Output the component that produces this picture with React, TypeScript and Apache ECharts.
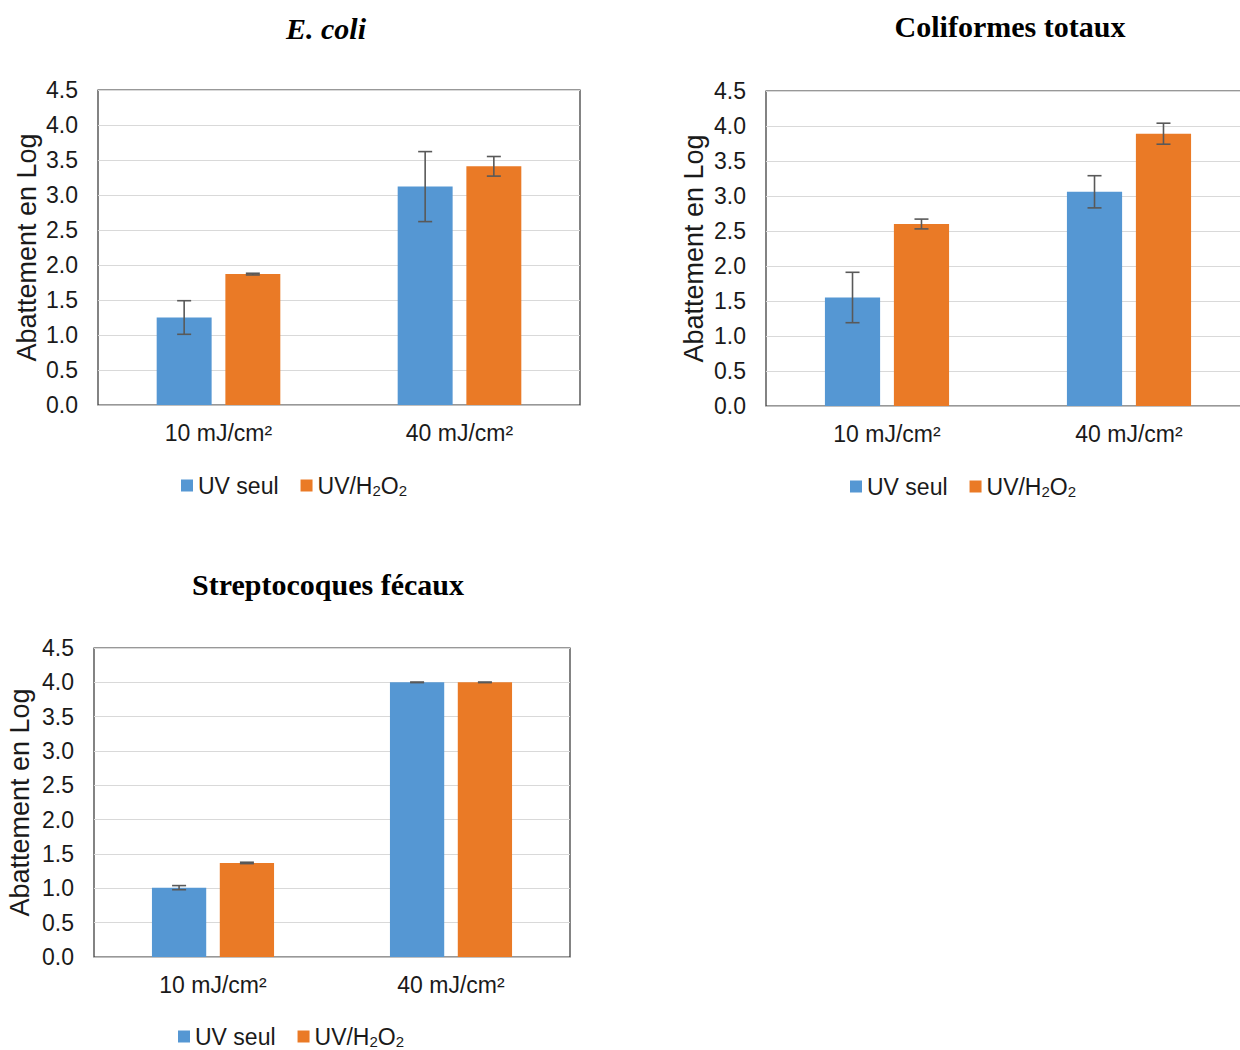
import React, { useEffect, useRef } from "react";
import * as echarts from "echarts";

const categories = ["10 mJ/cm²", "40 mJ/cm²"];
const seriesNames = ["UV seul", "UV/H2O2"];
const yTicks = { min: 0, max: 4.5, interval: 0.5 };

const ecoliUV = [1.25, 3.12];
const ecoliUVErr = [0.24, 0.5];
const ecoliH2O2 = [1.87, 3.41];
const ecoliH2O2Err = [0.012, 0.14];

const colUV = [1.55, 3.06];
const colUVErr = [0.36, 0.23];
const colH2O2 = [2.6, 3.89];
const colH2O2Err = [0.07, 0.15];

const strepUV = [1.01, 4.0];
const strepUVErr = [0.03, 0.004];
const strepH2O2 = [1.37, 4.0];
const strepH2O2Err = [0.01, 0.004];

const titles = ["E. coli", "Coliformes totaux", "Streptocoques fécaux"];

const BLUE = "#5597D3";
const ORANGE = "#EA7A26";
const BAR_W = 0.228;
const BAR_GAP = 0.25;

const grids = [
  { left: 98, top: 90, width: 482, height: 315 },
  { left: 766, top: 91, width: 484, height: 315 },
  { left: 94, top: 648, width: 476, height: 309 },
];
const nameGaps = [58, 59, 61];
const legendPos = [
  { left: 176, top: 469 },
  { left: 845, top: 470 },
  { left: 173, top: 1020 },
];
const titlePos = [
  { x: 326, y: 28, font: "italic bold 30px 'Liberation Serif'" },
  { x: 1010, y: 26, font: "bold 30px 'Liberation Serif'" },
  { x: 328, y: 584, font: "bold 30px 'Liberation Serif'" },
];

const panels = [
  { uv: ecoliUV, uvErr: ecoliUVErr, h: ecoliH2O2, hErr: ecoliH2O2Err },
  { uv: colUV, uvErr: colUVErr, h: colH2O2, hErr: colH2O2Err },
  { uv: strepUV, uvErr: strepUVErr, h: strepH2O2, hErr: strepH2O2Err },
];

const FONT = "'Liberation Sans', Arial, sans-serif";

export default function App() {
  const ref = useRef<HTMLDivElement>(null);
  useEffect(() => {
    if (!ref.current) return;
    const chart = echarts.init(ref.current, null, { renderer: "svg" });

    const errorRender = (sideIdx: number) => (params: any, api: any) => {
      const cat = api.value(0);
      const val = api.value(1);
      const err = api.value(2);
      const center = api.coord([cat, val]);
      const band = api.size([1, 0])[0];
      const w = band * BAR_W;
      const off = ((w + w * BAR_GAP) / 2) * (sideIdx === 0 ? -1 : 1);
      const x = center[0] + off;
      const top = api.coord([cat, val + err])[1];
      const bot = api.coord([cat, val - err])[1];
      const cap = 7;
      const style = { stroke: "#595959", lineWidth: 1.6 };
      return {
        type: "group",
        children: [
          { type: "line", shape: { x1: x, y1: top, x2: x, y2: bot }, style },
          { type: "line", shape: { x1: x - cap, y1: top, x2: x + cap, y2: top }, style },
          { type: "line", shape: { x1: x - cap, y1: bot, x2: x + cap, y2: bot }, style },
        ],
      };
    };

    const series: any[] = [];
    panels.forEach((p, i) => {
      series.push({
        type: "bar",
        name: seriesNames[0],
        xAxisIndex: i,
        yAxisIndex: i,
        data: p.uv,
        barWidth: BAR_W * 100 + "%",
        barGap: BAR_GAP * 100 + "%",
        itemStyle: { color: BLUE },
      });
      series.push({
        type: "bar",
        name: seriesNames[1],
        xAxisIndex: i,
        yAxisIndex: i,
        data: p.h,
        barWidth: BAR_W * 100 + "%",
        barGap: BAR_GAP * 100 + "%",
        itemStyle: { color: ORANGE },
      });
      series.push({
        type: "custom",
        xAxisIndex: i,
        yAxisIndex: i,
        z: 10,
        renderItem: errorRender(0),
        data: p.uv.map((v, k) => [k, v, p.uvErr[k]]),
      });
      series.push({
        type: "custom",
        xAxisIndex: i,
        yAxisIndex: i,
        z: 10,
        renderItem: errorRender(1),
        data: p.h.map((v, k) => [k, v, p.hErr[k]]),
      });
    });

    const option: any = {
      animation: false,
      backgroundColor: "#ffffff",
      grid: grids.map((g) => ({
        ...g,
        show: true,
        borderColor: "#333333",
        borderWidth: 1.2,
        containLabel: false,
        outerBoundsMode: "none",
      })),
      xAxis: grids.map((_, i) => ({
        type: "category",
        gridIndex: i,
        data: categories,
        axisTick: { show: false },
        axisLine: { show: true, lineStyle: { color: "#bfbfbf", width: 1.2 } },
        axisLabel: { fontFamily: FONT, fontSize: 23, color: "#1a1a1a", margin: 16 },
      })),
      yAxis: grids.map((_, i) => ({
        type: "value",
        gridIndex: i,
        min: yTicks.min,
        max: yTicks.max,
        interval: yTicks.interval,
        name: "Abattement en Log",
        nameLocation: "middle",
        nameGap: nameGaps[i],
        nameTextStyle: { fontFamily: FONT, fontSize: 27, color: "#1a1a1a" },
        axisLine: { show: false },
        axisTick: { show: false },
        splitLine: { lineStyle: { color: "#d9d9d9", width: 1.2 } },
        axisLabel: {
          fontFamily: FONT,
          fontSize: 23,
          color: "#1a1a1a",
          margin: 20,
          formatter: (v: number) => v.toFixed(1),
        },
      })),
      legend: legendPos.map((lp) => ({
        ...lp,
        data: seriesNames,
        itemWidth: 12,
        itemHeight: 12,
        itemGap: 22,
        icon: "rect",
        textStyle: {
          fontFamily: FONT,
          fontSize: 23,
          color: "#1a1a1a",
          rich: {
            s: { fontFamily: FONT, fontSize: 15, color: "#1a1a1a", padding: [9, 0, 0, 0] },
          },
        },
        formatter: (name: string) => (name === "UV/H2O2" ? "UV/H{s|2}O{s|2}" : name),
      })),
      graphic: titles.map((t, i) => ({
        type: "text",
        x: titlePos[i].x,
        y: titlePos[i].y,
        style: {
          text: t,
          font: titlePos[i].font,
          fill: "#000000",
          textAlign: "center",
          textVerticalAlign: "middle",
        },
      })),
      series,
    };
    chart.setOption(option);
    return () => chart.dispose();
  }, []);
  return (
    <div
      ref={ref}
      style={{ position: "absolute", left: 0, top: 0, width: 1240, height: 1050, background: "#fff" }}
    />
  );
}
